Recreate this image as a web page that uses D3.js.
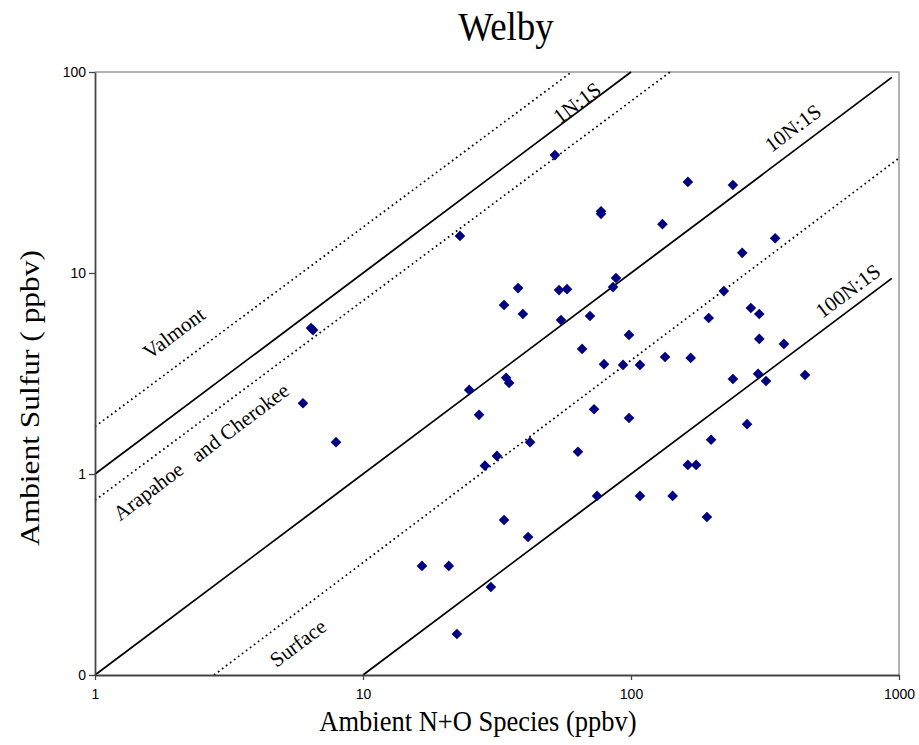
<!DOCTYPE html>
<html>
<head>
<meta charset="utf-8">
<script src="https://cdn.jsdelivr.net/npm/d3@7"></script>
<style>
  html, body { margin: 0; padding: 0; background: #fff; }
  svg { display: block; }
</style>
</head>
<body>
<svg id="chart" width="919" height="745"></svg>
<script>
// ---------- data ----------
const chartTitle = "Welby";
const xTitle = "Ambient N+O Species (ppbv)";
const yTitle = "Ambient Sulfur ( ppbv)";

const xTicks = [1, 10, 100, 1000];
const xTickLabels = ["1", "10", "100", "1000"];
const yTicks = [0.1, 1, 10, 100];
const yTickLabels = ["0", "1", "10", "100"];

// ambient N+O species (ppbv)
const nSpecies = [
  52.0, 23.0, 6.40, 6.51, 37.9, 33.6, 39.5, 53.9, 57.7, 54.8,
  5.97, 7.93, 24.9, 34.2, 35.1, 27.1, 42.0, 31.6, 28.5, 63.4,
  33.6, 41.3, 16.6, 20.9, 30.0, 22.4, 163, 240, 77.3, 77.3,
  131, 345, 260, 87.9, 85.7, 70.3, 222, 98.3, 65.7, 195,
  280, 301, 301, 372, 134, 167, 79.3, 93.4, 108, 240,
  298, 319, 446, 72.8, 98.3, 271, 199, 163, 175, 74.7,
  108, 143, 192
];
// ambient sulfur (ppbv)
const sulfur = [
  38.6, 15.3, 5.32, 5.20, 8.41, 6.93, 6.25, 8.22, 8.31, 5.84,
  2.25, 1.44, 2.62, 3.01, 2.84, 1.97, 1.44, 1.23, 1.10, 1.29,
  0.590, 0.486, 0.349, 0.349, 0.274, 0.160, 28.4, 27.4, 20.3, 19.7,
  17.5, 14.9, 12.6, 9.44, 8.51, 6.11, 8.13, 4.92, 4.19, 5.97,
  6.70, 6.25, 4.70, 4.44, 3.82, 3.78, 3.52, 3.49, 3.49, 2.97,
  3.15, 2.90, 3.11, 2.10, 1.90, 1.77, 1.48, 1.11, 1.11, 0.778,
  0.778, 0.778, 0.611
];

// reference ratio lines (endpoints in data units)
const lineNames = ["Valmont", "1N:1S", "Arapahoe and Cherokee", "10N:1S", "Surface", "100N:1S"];
const lineX0 = [1, 1, 1, 1, 2.78, 10];
const lineY0 = [1.72, 1, 0.74, 0.1, 0.1, 0.1];
const lineX1 = [60, 100, 140, 940, 1000, 940];
const lineY1 = [100, 100, 100, 94, 37.3, 9.4];
const lineDotted = [true, false, true, false, true, false];

// line labels (anchor in data units)
const labelTexts = ["Valmont", "1N:1S", "Arapahoe\u00a0\u00a0 and Cherokee", "10N:1S", "Surface", "100N:1S"];
const labelX = [1.97, 62.9, 2.49, 402, 5.72, 645];
const labelY = [5.02, 70.2, 1.29, 52.6, 0.144, 8.13];

// ---------- chart ----------
const svg = d3.select("#chart");
const W = 919, H = 745;
const margin = {left: 95, right: 20, top: 72, bottom: 70};

const x = d3.scaleLog().domain([1, 1000]).range([margin.left, W - margin.right]);
const y = d3.scaleLog().domain([0.1, 100]).range([H - margin.bottom, margin.top]);

const serif = "'Liberation Serif', 'Times New Roman', serif";
const sans = "'Liberation Sans', Arial, sans-serif";

// plot border (top & right, grey)
svg.append("path")
  .attr("d", `M${x(1)},${y(100)}H${x(1000)}V${y(0.1)}`)
  .attr("fill", "none").attr("stroke", "#999").attr("stroke-width", 1.5);

// reference lines
const angle = -Math.atan2(y(1) - y(10), x(10) - x(1)) * 180 / Math.PI;
const lineG = svg.append("g");
lineNames.forEach((n, i) => {
  lineG.append("line")
    .attr("x1", x(lineX0[i])).attr("y1", y(lineY0[i]))
    .attr("x2", x(lineX1[i])).attr("y2", y(lineY1[i]))
    .attr("stroke", "#000")
    .attr("stroke-width", lineDotted[i] ? 1.7 : 1.8)
    .attr("stroke-dasharray", lineDotted[i] ? "1.7,3.3" : null)
    .attr("stroke-linecap", "butt");
});

// labels
const labG = svg.append("g");
labelTexts.forEach((t, i) => {
  const px = x(labelX[i]), py = y(labelY[i]);
  labG.append("text")
    .attr("transform", `translate(${px},${py}) rotate(${angle})`)
    .attr("text-anchor", "middle")
    .attr("dominant-baseline", "central")
    .attr("font-family", serif)
    .attr("font-size", 21)
    .attr("fill", "#000")
    .text(t);
});

// points
const pts = nSpecies.map((v, i) => ({n: v, s: sulfur[i]}));
svg.append("g").selectAll("path")
  .data(pts).enter().append("path")
  .attr("transform", d => `translate(${x(d.n)},${y(d.s)})`)
  .attr("d", d3.symbol().type(d3.symbolDiamond2).size(72))
  .attr("fill", "#000080");

// axes
const xAxis = d3.axisBottom(x).tickValues(xTicks)
  .tickFormat((d, i) => xTickLabels[i]).tickSize(5).tickSizeOuter(0).tickPadding(9);
const yAxis = d3.axisLeft(y).tickValues(yTicks)
  .tickFormat((d, i) => yTickLabels[i]).tickSize(6).tickSizeOuter(0).tickPadding(3);

const gx = svg.append("g").attr("transform", `translate(0,${y(0.1)})`).call(xAxis);
const gy = svg.append("g").attr("transform", `translate(${x(1)},0)`).call(yAxis);
[gx, gy].forEach(g => {
  g.select(".domain").attr("stroke", "#444").attr("stroke-width", 1.8);
  g.selectAll(".tick line").attr("stroke", "#444").attr("stroke-width", 1.3);
  g.selectAll(".tick text").attr("font-family", sans).attr("font-size", 14).attr("fill", "#000");
});

// titles
svg.append("text")
  .attr("transform", "translate(506,40) scale(1,1.1)")
  .attr("text-anchor", "middle")
  .attr("font-family", serif).attr("font-size", 37)
  .text(chartTitle);

svg.append("text")
  .attr("transform", "translate(478,731) scale(1,1.1)")
  .attr("text-anchor", "middle")
  .attr("font-family", serif).attr("font-size", 26.5)
  .text(xTitle);

svg.append("text")
  .attr("transform", `translate(39,398) rotate(-90)`)
  .attr("text-anchor", "middle")
  .attr("font-family", serif).attr("font-size", 27)
  .attr("textLength", 296).attr("lengthAdjust", "spacingAndGlyphs")
  .text(yTitle);
</script>
</body>
</html>
